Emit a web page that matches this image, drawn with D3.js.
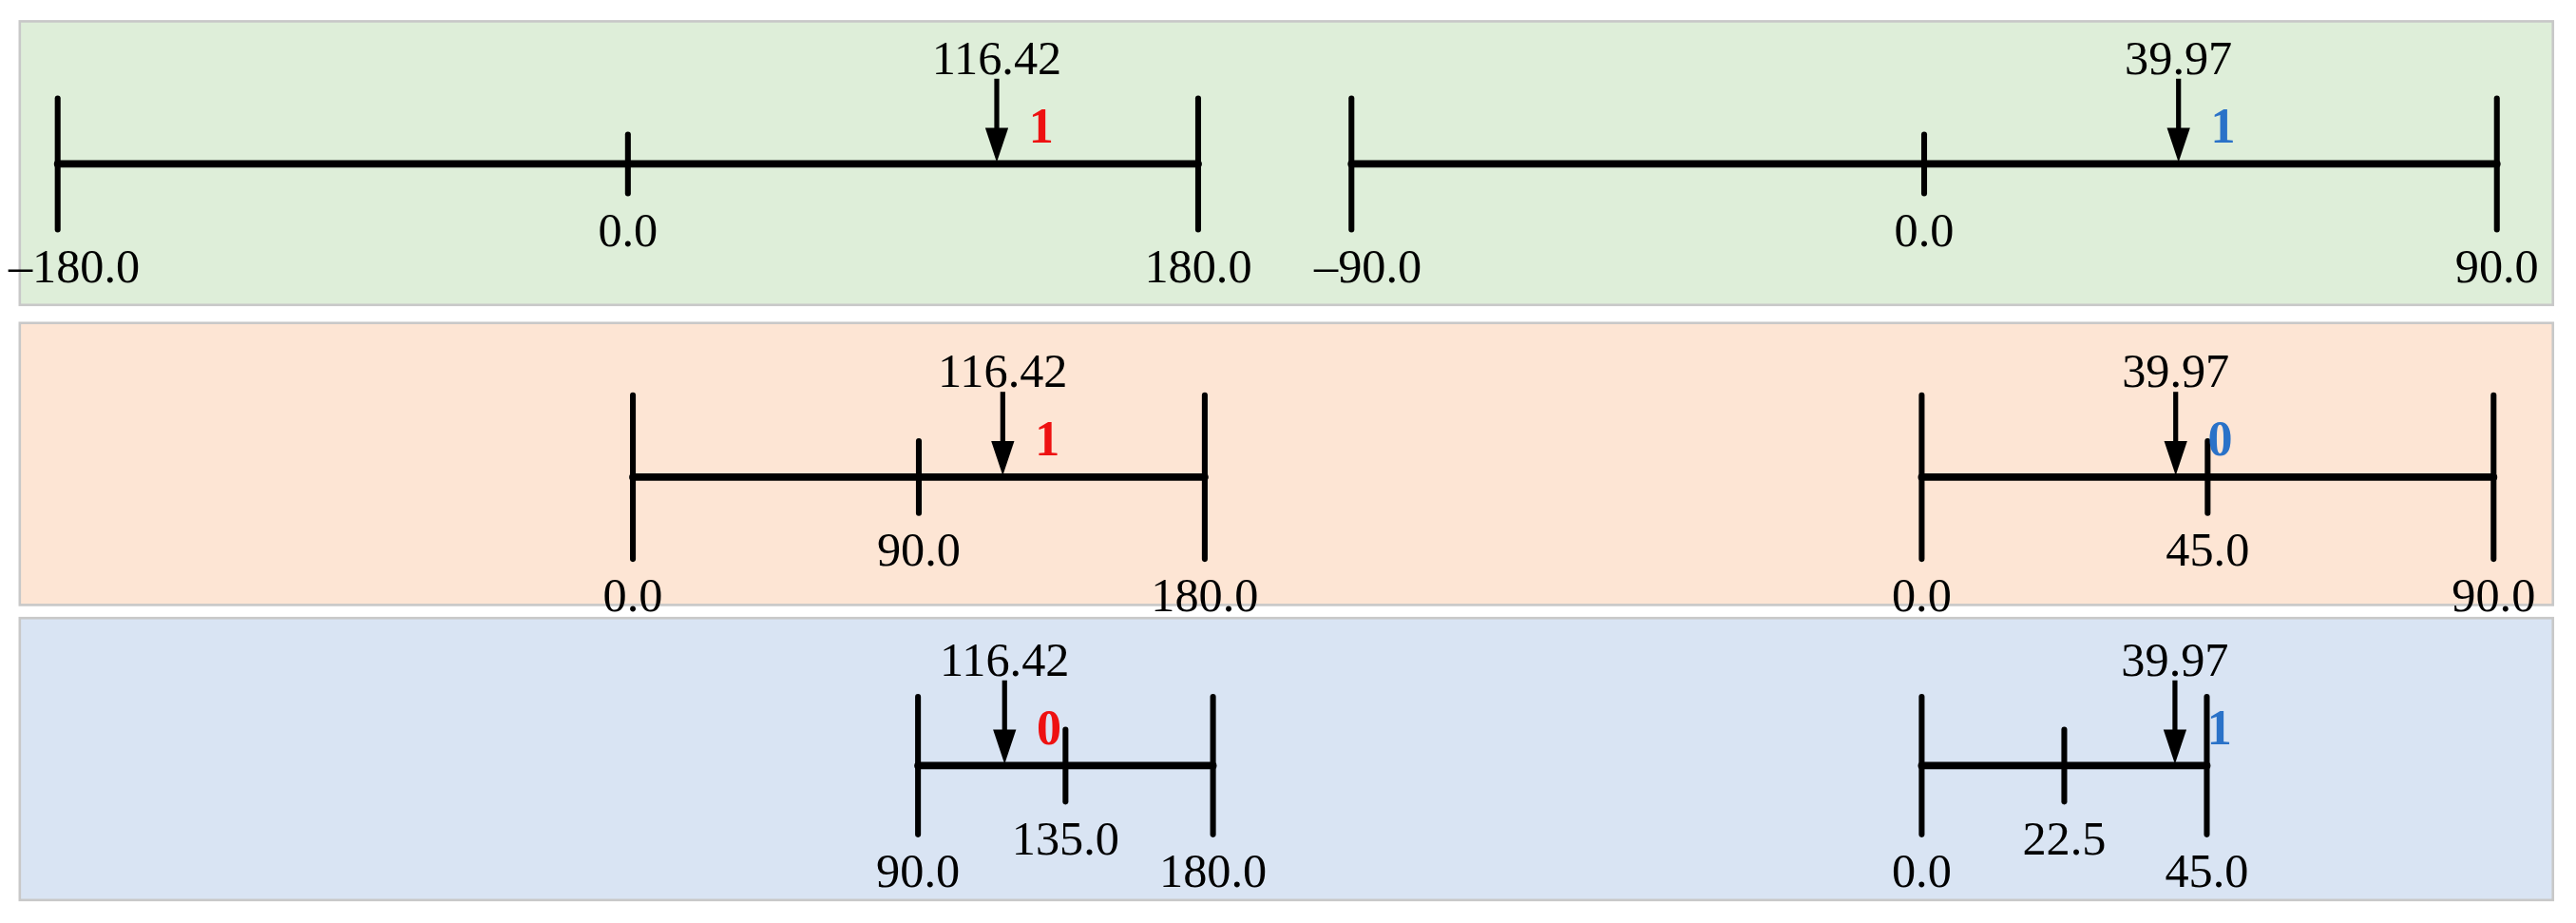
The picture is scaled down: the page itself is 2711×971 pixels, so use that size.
<!DOCTYPE html><html><head><meta charset="utf-8"><script src="https://cdn.jsdelivr.net/npm/d3@7"></script>
<style>body{margin:0;background:#fff}</style></head><body><svg id="c"></svg>
<script>
const lonRanges=[[-180,180],[0,180],[90,180]];
const latRanges=[[-90,90],[0,90],[0,45]];
const lonValue=116.42, latValue=39.97;
const lonBits=["1","1","0"], latBits=["1","0","1"];
const panelColors=["#deeed9","#fde5d4","#d9e4f3"];
const lonPix=[[35,727],[384,731],[557,736]];
const latPix=[[820,1515],[1166,1513],[1166,1339]];
const rows=[{top:13,h:173,ly:100,endH:40,midH:18},{top:197,h:172,ly:291,endH:50,midH:22},{top:377,h:172,ly:467,endH:42,midH:22}];
const svg=d3.select("#c").attr("width",2711).attr("height",971).attr("viewBox","0 0 1563 563").attr("preserveAspectRatio","none");
const F="'Liberation Serif','DejaVu Serif',serif";
rows.forEach((r,i)=>{
  svg.append("rect").attr("x",12).attr("y",r.top).attr("width",1537).attr("height",r.h).attr("fill",panelColors[i]).attr("stroke","#c8c8c8").attr("stroke-width",1.5);
  const axes=[{dom:lonRanges[i],pix:lonPix[i],v:lonValue,bit:lonBits[i],col:"#ee1111"},{dom:latRanges[i],pix:latPix[i],v:latValue,bit:latBits[i],col:"#2a72c8"}];
  axes.forEach((a,k)=>{
    const x=d3.scaleLinear().domain(a.dom).range(a.pix);
    const mid=(a.dom[0]+a.dom[1])/2;
    const g=svg.append("g").attr("stroke","#000").attr("stroke-linecap","round");
    g.append("line").attr("x1",x(a.dom[0])).attr("x2",x(a.dom[1])).attr("y1",r.ly).attr("y2",r.ly).attr("stroke-width",4.5);
    a.dom.forEach(d=>g.append("line").attr("x1",x(d)).attr("x2",x(d)).attr("y1",r.ly-r.endH).attr("y2",r.ly+r.endH).attr("stroke-width",3.5));
    g.append("line").attr("x1",x(mid)).attr("x2",x(mid)).attr("y1",r.ly-r.midH).attr("y2",r.ly+r.midH).attr("stroke-width",3.5);
    const fmt=d=>d.toFixed(1).replace("-","–");
    const t=svg.append("g").attr("font-family",F).attr("font-size",29).attr("text-anchor","middle").attr("fill","#000");
    t.append("text").attr("x",x(a.dom[0])+(i==0?10:0)).attr("y",r.ly+r.endH+32).text(fmt(a.dom[0]));
    t.append("text").attr("x",x(a.dom[1])).attr("y",r.ly+r.endH+32).text(fmt(a.dom[1]));
    t.append("text").attr("x",x(mid)).attr("y",r.ly+r.midH+32).text(fmt(mid));
    const ax=x(a.v);
    t.append("text").attr("x",ax).attr("y",r.ly-55).text(a.v.toFixed(2));
    svg.append("line").attr("x1",ax).attr("x2",ax).attr("y1",r.ly-52).attr("y2",r.ly-20).attr("stroke","#000").attr("stroke-width",3);
    svg.append("path").attr("d",`M${ax-7},${r.ly-22}L${ax+7},${r.ly-22}L${ax},${r.ly-1}Z`).attr("fill","#000");
    svg.append("text").attr("x",ax+27).attr("y",r.ly-13).attr("font-family",F).attr("font-weight","bold").attr("font-size",30).attr("text-anchor","middle").attr("fill",a.col).text(a.bit);
  });
});
</script></body></html>
